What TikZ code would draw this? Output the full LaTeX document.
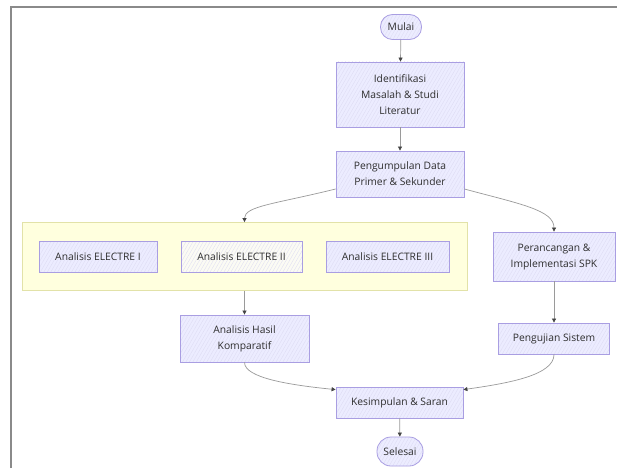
\documentclass[tikz,border=0pt]{standalone}
\usepackage{fontspec}
\setmainfont{Open Sans}
\usetikzlibrary{arrows.meta,patterns.meta}
\definecolor{boxfill}{HTML}{ECECFF}
\definecolor{boxdraw}{HTML}{A99EE2}
\definecolor{hatch}{HTML}{DCDAF2}
\definecolor{clfill}{HTML}{FFFFDE}
\definecolor{cldraw}{HTML}{E2E2A8}
\definecolor{edge}{HTML}{9A9A9A}
\definecolor{tip}{HTML}{444444}
\definecolor{txt}{HTML}{2E2E2E}
\definecolor{frame}{HTML}{8A8A8A}
\tikzset{
  procbox/.style={draw=boxdraw, line width=0.8pt, preaction={fill=boxfill},
    pattern={Lines[angle=60,distance=3pt,line width=0.3pt]}, pattern color=hatch,
    align=center, text=txt, font=\fontsize{10.3}{16}\selectfont, inner sep=0pt},
  stadium/.style={procbox, rounded corners=12pt},
  cluster/.style={draw=cldraw, fill=clfill, line width=0.8pt, inner sep=0pt},
  conn/.style={draw=edge, line width=0.7pt, -{Triangle[width=4pt,length=4pt,color=tip]}}
}
\begin{document}
\begin{tikzpicture}[x=1pt,y=-1pt]
\useasboundingbox (0,0) rectangle (617,468);
\fill[white] (0,0) rectangle (617,468);
\draw[frame, line width=2pt] (11,468) -- (11,7) -- (617,7);

\node[cluster, minimum width=445pt, minimum height=68pt] (cl) at (244.5,256.5) {};

\node[stadium, minimum width=41pt, minimum height=25pt] (mu) at (401,27) {Mulai};
\node[procbox, minimum width=128pt, minimum height=65pt] (id) at (400,94.5) {Identifikasi\\Masalah \& Studi\\Literatur};
\node[procbox, minimum width=128pt, minimum height=46pt] (pg) at (400,174) {Pengumpulan Data\\Primer \& Sekunder};
\node[procbox, minimum width=118pt, minimum height=31pt] (e1) at (98,256.5) {Analisis ELECTRE I};
\node[procbox, preaction={fill=white!60!clfill!80!boxfill}, minimum width=121pt, minimum height=31pt] (e2) at (241.5,256.5) {Analisis ELECTRE II};
\node[procbox, minimum width=123pt, minimum height=31pt] (e3) at (387.5,256.5) {Analisis ELECTRE III};
\node[procbox, minimum width=122pt, minimum height=49pt] (pr) at (554,256.5) {Perancangan \&\\Implementasi SPK};
\node[procbox, minimum width=129pt, minimum height=47pt] (ah) at (244.5,338.5) {Analisis Hasil\\Komparatif};
\node[procbox, minimum width=111pt, minimum height=31pt] (pu) at (554,338.5) {Pengujian Sistem};
\node[procbox, minimum width=127pt, minimum height=31pt] (ks) at (399.5,402.5) {Kesimpulan \& Saran};
\node[stadium, rounded corners=14pt, minimum width=46pt, minimum height=29pt] (se) at (400,451.5) {Selesai};

\draw[conn] (mu) -- (id);
\draw[conn] (id) -- (pg);
\draw[conn] ([yshift=-15pt]pg.west) .. controls (275,204) and (244.5,206) .. (cl.north);
\draw[conn] ([yshift=-15pt]pg.east) .. controls (520,204) and (554,210) .. (pr.north);
\draw[conn] (cl.south) -- (ah.north);
\draw[conn] (pr) -- (pu);
\draw[conn] (ah.south) .. controls (244.5,378) and (290,385) .. ([yshift=-3pt]ks.north west);
\draw[conn] (pu.south) .. controls (554,375) and (510,383) .. ([yshift=-3pt]ks.north east);
\draw[conn] (ks) -- (se);
\end{tikzpicture}
\end{document}
